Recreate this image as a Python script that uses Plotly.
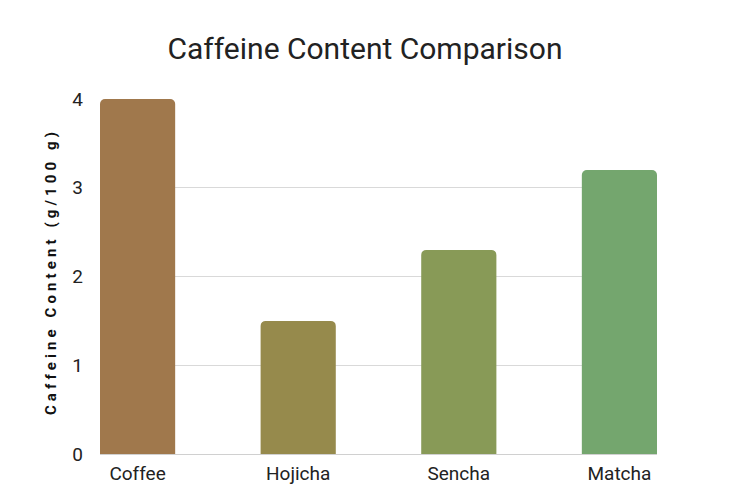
import plotly.graph_objects as go

categories = ["Coffee", "Hojicha", "Sencha", "Matcha"]
caffeine = [4.0, 1.5, 2.3, 3.2]
bar_colors = ["#A0784C", "#968A4C", "#889A57", "#74A66E"]
y_ticks = [0, 1, 2, 3, 4]

fig = go.Figure(
    go.Bar(
        x=categories,
        y=caffeine,
        marker=dict(color=bar_colors, line=dict(width=0)),
        width=0.468,
        hoverinfo="skip",
    )
)

fig.update_layout(
    width=730,
    height=497,
    margin=dict(l=100, r=73, t=99, b=43),
    paper_bgcolor="white",
    plot_bgcolor="white",
    barcornerradius=5,
    font=dict(family="Roboto", color="#222222"),
    title=dict(
        text="Caffeine Content Comparison",
        x=0.5,
        xanchor="center",
        y=0.903,
        yanchor="middle",
        font=dict(family="Roboto", size=30, color="#222222"),
    ),
    showlegend=False,
)

fig.update_xaxes(
    range=[-0.234, 3.234],
    showgrid=False,
    showline=False,
    ticks="",
    ticklabelstandoff=6,
    tickfont=dict(family="Roboto", size=19, color="#222222"),
)

fig.update_yaxes(
    range=[0, 4],
    tickvals=y_ticks,
    showgrid=True,
    gridcolor="#d9d9d9",
    gridwidth=1,
    zeroline=True,
    zerolinecolor="#d0d0d0",
    zerolinewidth=1,
    showline=False,
    ticks="",
    ticklabelstandoff=16,
    tickfont=dict(family="Roboto", size=19, color="#222222"),
    title=dict(
        text="Caffeine Content (g/100 g)",
        font=dict(family="Roboto", size=15, color="#111111", weight="bold"),
        standoff=12,
    ),
)

post = """
document.body.style.margin = '0';
var el = document.querySelector('.ytitle');
if (el) { el.style.letterSpacing = '4.1px'; el.setAttribute('dx', '5'); }
"""

fig.write_html("out.html", post_script=post, config={"displayModeBar": False})
